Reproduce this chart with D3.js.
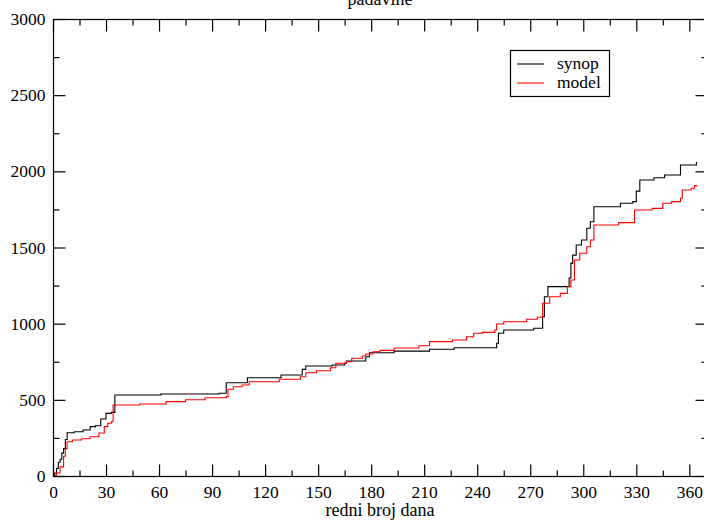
<!DOCTYPE html>
<html>
<head>
<meta charset="utf-8">
<script src="https://cdn.jsdelivr.net/npm/d3@7"></script>
<style>
  html, body { margin: 0; padding: 0; background: #fff; }
  svg { display: block; }
</style>
</head>
<body>
<svg id="chart" width="704" height="521"></svg>
<script>
// ---- data ----
const title = "padavine";
const xLabel = "redni broj dana";
const seriesNames = ["synop", "model"];
const xTicks = [0, 30, 60, 90, 120, 150, 180, 210, 240, 270, 300, 330, 360];
const yTicks = [0, 500, 1000, 1500, 2000, 2500, 3000];

const synopDays = [0,1,2,3,4,5,6,7,8,12,17,21,24,27,30,33,35,61,94,98,110,129,141,143,158,165,166,177,179,193,213,227,251,252,255,272,277,278,280,292,293,294,296,299,302,304,306,321,328,330,332,340,346,355,364];
const synopVals = [0,20,50,90,110,150,180,240,284,290,302,324,330,374,411,418,532,538,543,612,645,663,700,722,729,740,755,783,809,820,832,842,871,937,958,970,1046,1177,1243,1300,1396,1450,1516,1549,1626,1669,1768,1790,1801,1870,1943,1958,1976,2042,2057];

const modelDays = [0,2,4,6,7,8,11,16,21,26,29,31,33,34,49,64,75,86,98,99,102,107,111,128,140,143,149,157,160,166,169,175,177,181,185,193,207,213,226,234,238,243,250,251,255,268,274,277,281,287,291,293,295,298,302,304,306,320,329,339,345,350,355,356,361,363];
const modelVals = [0,20,60,130,180,225,236,245,258,282,324,346,356,466,473,488,501,514,521,569,586,597,619,635,652,678,691,711,740,750,773,788,801,816,825,840,855,882,893,914,937,943,958,998,1013,1029,1042,1134,1177,1199,1243,1287,1418,1462,1505,1549,1648,1663,1746,1757,1790,1801,1823,1877,1889,1906];
const lastDay = 364.5;

const colors = ["#000000", "#ff0000"];
const FONT = "'Liberation Serif', 'Times New Roman', serif";

// ---- layout ----
const svg = d3.select("#chart");
const mLeft = 53, mRight = 707, mTop = 19, mBottom = 476;
const x = d3.scaleLinear().domain([0, 370]).range([mLeft, mRight]);
const y = d3.scaleLinear().domain([0, 3000]).range([mBottom, mTop]);

svg.append("rect").attr("width", 704).attr("height", 521).attr("fill", "#fff");

// series
const line = d3.line().x(d => x(d[0])).y(d => y(d[1])).curve(d3.curveStepAfter);
function pts(days, vals) {
  const p = days.map((d, i) => [d, vals[i]]);
  p.push([lastDay, vals[vals.length - 1]]);
  return p;
}
const series = [pts(synopDays, synopVals), pts(modelDays, modelVals)];
series.forEach((s, i) => {
  svg.append("path").datum(s).attr("d", line)
    .attr("fill", "none").attr("stroke", colors[i]).attr("stroke-width", 1.1);
});

// frame
svg.append("rect").attr("x", mLeft + 0.5).attr("y", mTop + 0.5)
  .attr("width", mRight - mLeft).attr("height", mBottom - mTop)
  .attr("fill", "none").attr("stroke", "#000").attr("stroke-width", 1.2);

const fs = 17.5;
function styleAxis(g, hideText) {
  g.attr("font-family", null).attr("font-size", null);
  g.select(".domain").remove();
  g.selectAll("line").attr("stroke", "#000").attr("stroke-width", 1.2);
  g.selectAll("text").style("font-size", fs + "px").style("font-family", FONT).attr("fill", "#000");
  if (hideText) g.selectAll("text").remove();
}
const xMinor = d3.range(15, 370, 30);
const yMinor = d3.range(250, 3000, 500);

// bottom
styleAxis(svg.append("g").attr("transform", `translate(0,${mBottom + 0.5})`)
  .call(d3.axisBottom(x).tickValues(xTicks).tickSize(-12).tickPadding(9).tickFormat(d3.format("d"))), false);
styleAxis(svg.append("g").attr("transform", `translate(0,${mBottom + 0.5})`)
  .call(d3.axisBottom(x).tickValues(xMinor).tickSize(-6)), true);
// top
styleAxis(svg.append("g").attr("transform", `translate(0,${mTop + 0.5})`)
  .call(d3.axisTop(x).tickValues(xTicks).tickSize(-12)), true);
styleAxis(svg.append("g").attr("transform", `translate(0,${mTop + 0.5})`)
  .call(d3.axisTop(x).tickValues(xMinor).tickSize(-6)), true);
// left
styleAxis(svg.append("g").attr("transform", `translate(${mLeft + 0.5},0)`)
  .call(d3.axisLeft(y).tickValues(yTicks).tickSize(-12).tickPadding(8).tickFormat(d3.format("d"))), false);
styleAxis(svg.append("g").attr("transform", `translate(${mLeft + 0.5},0)`)
  .call(d3.axisLeft(y).tickValues(yMinor).tickSize(-6)), true);
// right
styleAxis(svg.append("g").attr("transform", `translate(${mRight + 0.5},0)`)
  .call(d3.axisRight(y).tickValues(yTicks).tickSize(-12)), true);
styleAxis(svg.append("g").attr("transform", `translate(${mRight + 0.5},0)`)
  .call(d3.axisRight(y).tickValues(yMinor).tickSize(-6)), true);

// titles
svg.append("text").attr("x", (mLeft + mRight) / 2).attr("y", 5)
  .attr("text-anchor", "middle").style("font-family", FONT).style("font-size", "18px").text(title);
svg.append("text").attr("x", (mLeft + mRight) / 2).attr("y", 516)
  .attr("text-anchor", "middle").style("font-family", FONT).style("font-size", "18px").text(xLabel);

// legend
const lg = svg.append("g");
lg.append("rect").attr("x", 510.5).attr("y", 50.5).attr("width", 99).attr("height", 46)
  .attr("fill", "#fff").attr("stroke", "#000").attr("stroke-width", 1.2);
seriesNames.forEach((n, i) => {
  const yy = 64 + i * 19;
  lg.append("line").attr("x1", 517).attr("x2", 544).attr("y1", yy).attr("y2", yy)
    .attr("stroke", colors[i]).attr("stroke-width", 1.1);
  lg.append("text").attr("x", 557).attr("y", yy + 5)
    .style("font-family", FONT).style("font-size", fs + "px").text(n);
});
</script>
</body>
</html>
